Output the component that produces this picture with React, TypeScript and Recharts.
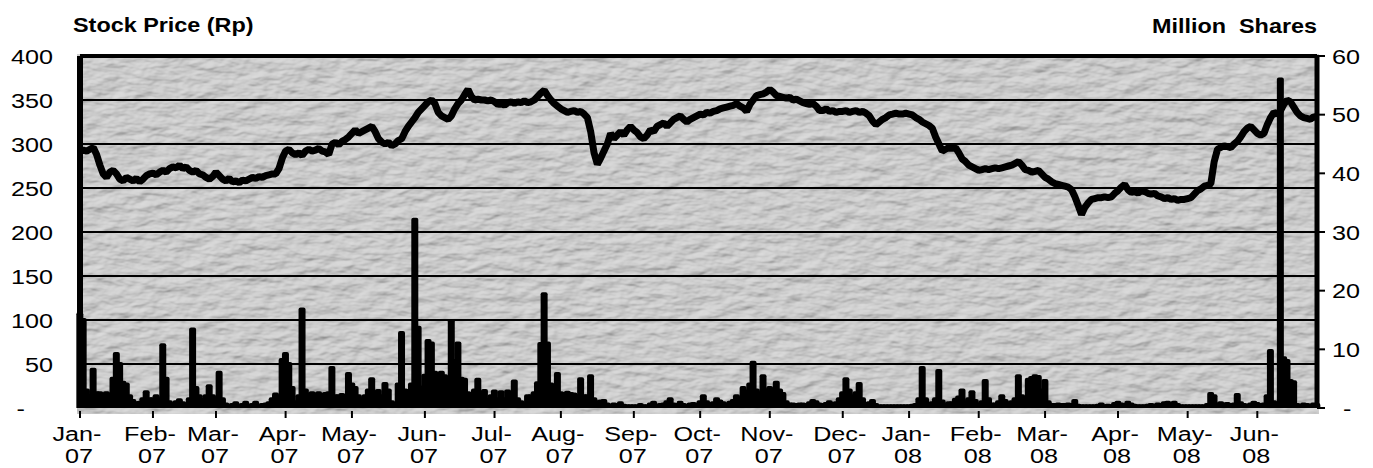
import React from 'react';
import { ComposedChart, Bar, Line, XAxis, YAxis, ReferenceLine } from 'recharts';

// month tick labels (one per month, daily trading data below)
const monthLabels = [
  'Jan-07', 'Feb-07', 'Mar-07', 'Apr-07', 'May-07', 'Jun-07', 'Jul-07', 'Aug-07', 'Sep-07',
  'Oct-07', 'Nov-07', 'Dec-07', 'Jan-08', 'Feb-08', 'Mar-08', 'Apr-08', 'May-08', 'Jun-08',
];

// closing price (Rp), one value per trading day
const pJan07 = [292, 293, 292, 294, 296, 288, 276, 266, 262, 268, 270, 266, 260, 258, 262, 260, 258, 261, 257, 260, 264, 266];
const pFeb07 = [267, 265, 268, 270, 268, 272, 274, 273, 276, 272, 274, 270, 268, 270, 266, 265, 262, 260, 263];
const pMar07 = [268, 264, 260, 258, 261, 257, 258, 256, 259, 258, 260, 262, 261, 263, 262, 264, 265, 266, 266, 272, 284];
const pApr07 = [292, 294, 290, 288, 290, 287, 292, 294, 292, 293, 295, 292, 291, 288, 300, 302, 299, 303, 305, 308];
const pMay07 = [312, 316, 312, 314, 316, 318, 320, 314, 306, 302, 300, 302, 298, 300, 304, 306, 314, 320, 325, 330, 336, 340];
const pJun07 = [344, 348, 350, 346, 336, 332, 330, 328, 332, 340, 346, 350, 356, 362, 354, 350, 351, 350, 350, 349, 350];
const pJul07 = [348, 345, 346, 344, 347, 348, 346, 348, 347, 349, 347, 348, 350, 354, 358, 361, 355, 350, 346, 343];
const pAug07 = [340, 338, 336, 337, 338, 336, 337, 334, 330, 314, 290, 277, 284, 292, 300, 312, 306, 310, 314, 310, 316, 320];
const pSep07 = [316, 313, 308, 306, 310, 316, 314, 320, 322, 324, 320, 324, 328, 330, 332, 328, 325, 328, 330, 332];
const pOct07 = [334, 333, 336, 335, 337, 338, 340, 341, 342, 343, 344, 346, 343, 341, 337, 345, 350, 355, 356, 357, 359];
const pNov07 = [362, 359, 355, 354, 353, 352, 353, 350, 351, 349, 347, 346, 345, 346, 343, 338, 338, 340, 337, 338, 336, 337];
const pDec07 = [337, 338, 336, 337, 338, 336, 337, 335, 332, 326, 322, 325, 328, 330, 333, 334, 335, 334, 334, 335];
const pJan08 = [334, 333, 330, 328, 325, 323, 321, 318, 308, 300, 292, 294, 296, 295, 296, 290, 283, 280, 276, 274, 272];
const pFeb08 = [270, 271, 272, 271, 272, 273, 272, 273, 274, 275, 276, 278, 280, 276, 271, 270, 268, 269, 270, 266];
const pMar08 = [262, 260, 257, 255, 254, 253, 252, 251, 248, 240, 230, 220, 228, 233, 237, 238, 239, 239, 240, 239, 240, 244];
const pApr08 = [247, 251, 254, 248, 245, 246, 244, 247, 246, 244, 243, 244, 241, 240, 238, 239, 237, 238, 236, 237, 237];
const pMay08 = [238, 239, 243, 247, 249, 252, 253, 255, 280, 294, 296, 298, 297, 296, 300, 303, 308, 314, 318, 320, 316];
const pJun08 = [312, 310, 312, 322, 330, 336, 334, 338, 345, 350, 348, 342, 336, 332, 330, 329, 328, 331, 330];

// traded volume (million shares), one value per trading day
const vJan07 = [16, 15, 3, 2, 6.5, 2.5, 2.5, 2.3, 2.5, 2.3, 5, 9.2, 7.5, 4.3, 4, 2, 1.2, 0.8, 0.9, 1.5, 2.7, 1.5];
const vFeb07 = [1.5, 2, 1.5, 10.7, 5, 1, 0.6, 1, 1.3, 0.8, 0.6, 1.5, 13.4, 3.4, 2, 1.4, 2, 3.7, 2];
const vMar07 = [1, 6, 1.5, 0.6, 0.4, 0.5, 0.8, 0.4, 0.5, 0.9, 0.4, 0.5, 0.9, 0.4, 0.5, 0.6, 0.8, 1.5, 2.3, 1.5, 8.2];
const vApr07 = [9.2, 7.5, 3.4, 1, 2, 16.8, 3, 2.3, 2.5, 2.3, 2.5, 2.2, 2.4, 2.5, 6.8, 2, 2, 2.2, 2, 5.8];
const vMay07 = [4, 3.4, 2, 1.5, 2, 3, 4.9, 2.5, 2.9, 2, 4.1, 3, 1, 0.6, 4, 12.8, 3, 2.9, 4, 32.1, 13.7, 3.5];
const vJun07 = [5.5, 11.4, 11, 6, 5.4, 6, 5.4, 5, 14.8, 8, 11, 5, 4.8, 2.5, 2, 3, 4.8, 2, 2.9, 1.4, 2];
const vJul07 = [2.8, 1.5, 2.7, 1.5, 2.8, 2, 4.5, 1.5, 1, 0.6, 2, 2, 2.5, 4.2, 10.9, 19.4, 11, 4, 2, 5.8];
const vAug07 = [2.5, 2.4, 2.6, 2.4, 2.3, 2, 4.9, 2, 2, 5.4, 1.5, 1, 1.1, 1.2, 0.6, 0.4, 0.6, 0.5, 0.8, 0.4, 0.3, 0.3];
const vSep07 = [0.3, 0.3, 0.5, 0.3, 0.3, 0.6, 0.9, 0.4, 0.5, 0.6, 1, 1.5, 0.6, 0.5, 0.9, 0.5, 0.4, 0.6, 0.7, 0.5];
const vOct07 = [1, 2, 1, 0.6, 0.8, 1.5, 1.1, 0.8, 0.6, 0.9, 1.2, 2, 1.5, 3.4, 2.8, 4, 7.7, 3, 2.5, 5.4, 3];
const vNov07 = [3.4, 2.5, 4.3, 3, 2.4, 1, 0.6, 0.6, 0.5, 0.6, 0.6, 0.5, 0.8, 1.2, 1, 0.6, 0.5, 0.7, 1, 0.7, 0.8, 1.5];
const vDec07 = [2.5, 4.9, 3, 2, 2.5, 4.1, 1.5, 0.6, 0.8, 1.2, 0.5, 0.3, 0.3, 0.3, 0.3, 0.3, 0.3, 0.3, 0.3, 0.3];
const vJan08 = [0.3, 0.4, 0.5, 1.5, 6.8, 1.5, 0.6, 0.8, 1.5, 6.3, 1.1, 0.6, 0.8, 0.8, 1.4, 1.8, 3, 1, 1.5, 2.7, 1.2];
const vFeb08 = [0.6, 1, 4.6, 1.5, 0.6, 0.6, 1, 2, 1.2, 0.8, 1, 1.5, 5.4, 2, 1, 4.8, 5.1, 5.4, 5.3, 3];
const vMar08 = [4.6, 1, 0.5, 0.5, 0.6, 0.5, 0.5, 0.6, 0.5, 1.2, 0.4, 0.3, 0.3, 0.3, 0.3, 0.3, 0.4, 0.6, 0.3, 0.4, 0.3, 0.7];
const vApr08 = [0.9, 0.6, 0.5, 0.9, 0.6, 0.4, 0.3, 0.3, 0.3, 0.4, 0.5, 0.4, 0.6, 0.5, 0.8, 0.9, 0.5, 0.9, 0.5, 0.3, 0.3];
const vMay08 = [0.3, 0.3, 0.3, 0.3, 0.3, 0.3, 0.5, 2.4, 2, 0.6, 0.8, 0.6, 0.7, 0.5, 0.6, 2.2, 0.8, 0.5, 0.4, 0.6, 0.9];
const vJun08 = [0.7, 0.5, 0.6, 2, 9.7, 1, 0.6, 56, 8.5, 8, 4.6, 4.4, 0.5, 0.4, 0.6, 0.5, 0.4, 0.6, 0.5];

const priceTicks = [0, 50, 100, 150, 200, 250, 300, 350, 400];
const gridLines = [50, 100, 150, 200, 250, 300, 350];
const volumeTicks = [0, 10, 20, 30, 40, 50, 60];

const priceByMonth = [pJan07, pFeb07, pMar07, pApr07, pMay07, pJun07, pJul07, pAug07, pSep07,
  pOct07, pNov07, pDec07, pJan08, pFeb08, pMar08, pApr08, pMay08, pJun08];
const volumeByMonth = [vJan07, vFeb07, vMar07, vApr07, vMay07, vJun07, vJul07, vAug07, vSep07,
  vOct07, vNov07, vDec07, vJan08, vFeb08, vMar08, vApr08, vMay08, vJun08];

// flatten to one row per trading day, remember where each month begins
const data: { idx: number; price: number; volume: number }[] = [];
const monthStarts: number[] = [];
priceByMonth.forEach((prices, m) => {
  monthStarts.push(data.length);
  prices.forEach((p, d) => data.push({ idx: data.length, price: p, volume: volumeByMonth[m][d] }));
});
const lastIdx = data.length - 1;

const W = 1373;
const H = 468;
const FONT = '"Liberation Sans", Arial, Helvetica, sans-serif';
const STRETCH = 1.2; // the source image is stretched horizontally

const LeftTick = ({ y, payload }: any) => {
  const v = payload.value;
  // accounting style: dash for zero, padded by two digit widths
  const xEnd = v === 0 ? 25 : 53;
  return (
    <text transform={`translate(${xEnd},${y}) scale(${STRETCH},1)`} textAnchor="end" dy="0.36em"
      fontSize={21} fontFamily={FONT} fill="#000">
      {v === 0 ? '-' : v}
    </text>
  );
};

const RightTick = ({ y, payload }: any) => {
  const v = payload.value;
  const xStart = v === 0 ? 1343 : 1332;
  return (
    <text transform={`translate(${xStart},${y}) scale(${STRETCH},1)`} textAnchor="start" dy="0.36em"
      fontSize={21} fontFamily={FONT} fill="#000">
      {v === 0 ? '-' : v}
    </text>
  );
};

const MonthTick = ({ x, payload }: any) => {
  const label = monthLabels[monthStarts.indexOf(payload.value)] || '';
  const [mon, yr] = label.split('-');
  return (
    <g>
      <line x1={x} x2={x} y1={411} y2={418} stroke="#000" strokeWidth={2} />
      <text transform={`translate(${x - 3},441) scale(${STRETCH},1)`} textAnchor="middle"
        fontSize={21} fontFamily={FONT} fill="#000">{mon + '-'}</text>
      <text transform={`translate(${x - 1},463) scale(${STRETCH},1)`} textAnchor="middle"
        fontSize={21} fontFamily={FONT} fill="#000">{yr}</text>
    </g>
  );
};

const VolumeBar = (props: any) => {
  const { x, y, width, height } = props;
  if (x == null || y == null) return null;
  return (
    <rect x={x} y={y} width={width} height={Math.max(height, 0)} fill="#000"
      stroke="#000" strokeWidth={4} strokeLinejoin="round" />
  );
};

export default function App() {
  return (
    <div style={{ position: 'absolute', left: 0, top: 0, width: W, height: H, background: '#fff' }}>
      {/* textured plot background + titles */}
      <svg width={W} height={H} style={{ position: 'absolute', left: 0, top: 0 }}>
        <defs>
          <filter id="stucco" x="0" y="0" width="100%" height="100%">
            <feTurbulence type="fractalNoise" baseFrequency="0.045 0.1" numOctaves={3} seed={11} result="noise" />
            <feGaussianBlur in="noise" stdDeviation="0.6" result="soft" />
            <feDiffuseLighting in="soft" lightingColor="#dcdcdc" surfaceScale={2.3} diffuseConstant={1}>
              <feDistantLight azimuth={235} elevation={56} />
            </feDiffuseLighting>
          </filter>
        </defs>
        <rect x={77} y={54} width={1242} height={360} fill="#c0c0c0" filter="url(#stucco)" />
        <text transform={`translate(73,32) scale(${STRETCH},1)`} fontSize={19.5} fontWeight="bold"
          fontFamily={FONT} fill="#000">Stock Price (Rp)</text>
        <text transform={`translate(1152,33) scale(${STRETCH},1)`} fontSize={19.5}
          fontWeight="bold" fontFamily={FONT} fill="#000">Million{'\u00a0\u00a0'}Shares</text>
      </svg>

      <div style={{ position: 'absolute', left: 0, top: 0 }}>
        <ComposedChart width={W} height={H} data={data} margin={{ top: 56, right: 0, bottom: 0, left: 0 }}>
          <XAxis dataKey="idx" type="number" domain={[0, lastIdx]} ticks={monthStarts} interval={0}
            axisLine={false} tickLine={false} tick={<MonthTick />} height={60} />
          <YAxis yAxisId="price" domain={[0, 400]} ticks={priceTicks} width={80}
            axisLine={{ stroke: '#000', strokeWidth: 6 }} tickLine={false} tick={<LeftTick />} />
          <YAxis yAxisId="vol" orientation="right" domain={[0, 60]} ticks={volumeTicks} width={56}
            allowDataOverflow axisLine={{ stroke: '#000', strokeWidth: 5 }}
            tickLine={{ stroke: '#000', strokeWidth: 2 }} tickSize={8} tick={<RightTick />} />
          {gridLines.map((g) => (
            <ReferenceLine key={g} yAxisId="price" y={g} stroke="#000" strokeWidth={2} />
          ))}
          <ReferenceLine yAxisId="price" y={400} stroke="#000" strokeWidth={4} />
          <Bar yAxisId="vol" dataKey="volume" barSize={3} shape={<VolumeBar />} isAnimationActive={false} />
          <Line yAxisId="price" dataKey="price" type="linear" stroke="#000" strokeWidth={7}
            strokeLinejoin="bevel" dot={false} activeDot={false} isAnimationActive={false} />
        </ComposedChart>
      </div>
    </div>
  );
}
